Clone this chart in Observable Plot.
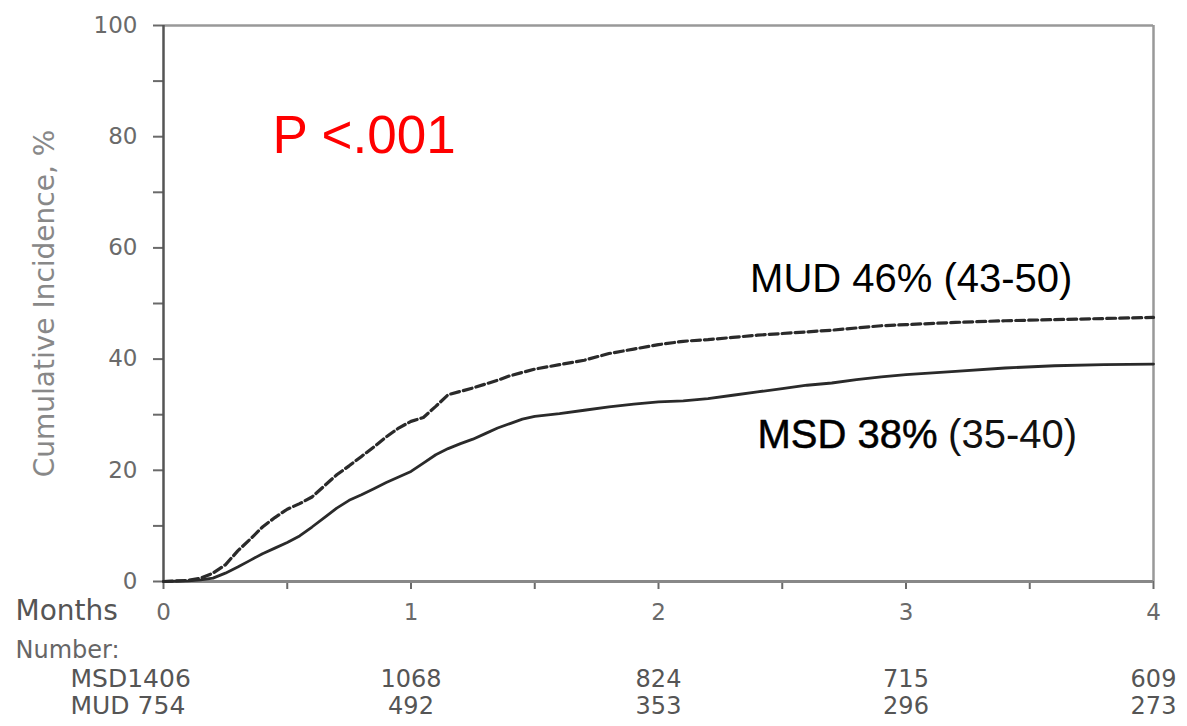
<!DOCTYPE html>
<html>
<head>
<meta charset="utf-8">
<script src="https://cdn.jsdelivr.net/npm/d3@7"></script>
<script src="https://cdn.jsdelivr.net/npm/@observablehq/plot@0.6"></script>
<style>
  html, body { margin: 0; padding: 0; background: #fff; }
  #chart svg { display: block; }
</style>
</head>
<body>
<div id="chart"></div>
<script>
// ---- data ----
const months = [0,0.1,0.15,0.2,0.25,0.3,0.35,0.4,0.45,0.5,0.55,0.6,0.65,0.7,0.75,0.8,0.85,0.9,0.95,1.0,
  1.05,1.1,1.15,1.2,1.25,1.3,1.35,1.4,1.45,1.5,1.6,1.7,1.8,1.9,2.0,2.1,2.2,2.3,2.4,2.5,
  2.6,2.7,2.8,2.9,3.0,3.2,3.4,3.6,3.8,4.0];
const msd = [0,0.1,0.3,0.6,1.5,2.6,3.8,5.0,6.0,7.0,8.2,9.8,11.5,13.2,14.6,15.6,16.7,17.8,18.8,19.8,
  21.3,22.8,23.9,24.8,25.6,26.6,27.6,28.4,29.2,29.7,30.2,30.8,31.4,31.9,32.3,32.5,32.9,33.5,34.1,34.7,
  35.3,35.7,36.3,36.8,37.2,37.8,38.4,38.8,39.0,39.1];
const mud = [0,0.2,0.6,1.5,3.0,5.5,7.6,9.8,11.5,13.0,14.0,15.2,17.2,19.2,20.8,22.5,24.2,26.0,27.6,28.8,
  29.5,31.5,33.6,34.2,34.8,35.5,36.2,37.0,37.6,38.2,39.0,39.8,41.0,41.8,42.6,43.2,43.5,43.9,44.3,44.6,
  44.9,45.2,45.6,46.0,46.2,46.6,46.9,47.1,47.3,47.5];

const riskMonths = [1, 2, 3, 4];
const riskMSD = [1068, 824, 715, 609];
const riskMUD = [492, 353, 296, 273];

const xTicks = [0,0.5,1,1.5,2,2.5,3,3.5,4];
const yTicks = [0,10,20,30,40,50,60,70,80,90,100];

const pText = "P <.001";
const mudLabel = "MUD 46% (43-50)";
const msdLabelA = "MSD 38%";
const msdLabelB = "(35-40)";
const yTitle = "Cumulative Incidence, %";

// ---- build ----
const msdData = months.map((m, i) => ({m, v: msd[i]}));
const mudData = months.map((m, i) => ({m, v: mud[i]}));
const riskMSDData = riskMonths.map((m, i) => ({m, n: riskMSD[i]}));
const riskMUDData = riskMonths.map((m, i) => ({m, n: riskMUD[i]}));

const chart = Plot.plot({
  width: 1187,
  height: 726,
  marginLeft: 163,
  marginRight: 34,
  marginTop: 25,
  marginBottom: 145,
  style: {fontFamily: "DejaVu Sans", background: "#fff"},
  x: {domain: [0, 4]},
  y: {domain: [0, 100]},
  marks: [
    // frame lines
    Plot.ruleY([100], {stroke: "#999", strokeWidth: 2.5}),
    Plot.ruleX([4], {stroke: "#999", strokeWidth: 2.5}),
    Plot.axisY({ticks: yTicks, tickFormat: d => d % 20 === 0 ? String(d) : "", tickSize: 10, tickPadding: 16,
      fontSize: 23, color: "#6a6a6a", strokeWidth: 2, label: null}),
    Plot.axisX({ticks: xTicks, tickFormat: d => Number.isInteger(d) ? String(d) : "", tickSize: 8, tickPadding: 14,
      fontSize: 23, color: "#6a6a6a", strokeWidth: 2, label: null}),
    Plot.ruleY([0], {stroke: "#888", strokeWidth: 3}),
    Plot.ruleX([0], {stroke: "#555", strokeWidth: 2.5}),
    // curves
    Plot.line(msdData, {x: "m", y: "v", stroke: "#2a2a2a", strokeWidth: 2.8}),
    Plot.line(mudData, {x: "m", y: "v", stroke: "#2a2a2a", strokeWidth: 3.2, strokeDasharray: "9,4"}),
    // annotations
    Plot.text([pText], {x: 0.44, y: 80.2, text: d => d, textAnchor: "start", fill: "#ff0000",
      fontSize: 53, fontFamily: "Liberation Sans"}),
    Plot.text([mudLabel], {x: 2.37, y: 54.3, text: d => d, textAnchor: "start", fill: "#000",
      fontSize: 40, fontFamily: "Liberation Sans"}),
    Plot.text([msdLabelA], {x: 2.40, y: 26.4, text: d => d, textAnchor: "start", fill: "#000",
      stroke: "#000", strokeWidth: 0.5, fontSize: 40, fontFamily: "Liberation Sans"}),
    Plot.text([msdLabelB], {x: 3.17, y: 26.4, text: d => d, textAnchor: "start", fill: "#111",
      fontSize: 40, fontFamily: "Liberation Sans"}),
    // y title
    Plot.text([yTitle], {frameAnchor: "left", dx: -118, rotate: -90, textAnchor: "middle", text: d => d,
      fill: "#888", fontSize: 28}),
    // risk table
    Plot.text(["Months"], {frameAnchor: "bottom-left", dx: -148, dy: 38, textAnchor: "start", text: d => d,
      fill: "#555", fontSize: 28}),
    Plot.text(["Number:"], {frameAnchor: "bottom-left", dx: -148, dy: 76, textAnchor: "start", text: d => d,
      fill: "#666", fontSize: 24}),
    Plot.text(["MSD1406"], {frameAnchor: "bottom-left", dx: -93, dy: 105, textAnchor: "start", text: d => d,
      fill: "#555", fontSize: 25}),
    Plot.text(["MUD 754"], {frameAnchor: "bottom-left", dx: -93, dy: 132, textAnchor: "start", text: d => d,
      fill: "#555", fontSize: 25}),
    Plot.text(riskMSDData, {x: "m", frameAnchor: "bottom", dy: 105, text: d => String(d.n), fill: "#555", fontSize: 24}),
    Plot.text(riskMUDData, {x: "m", frameAnchor: "bottom", dy: 132, text: d => String(d.n), fill: "#555", fontSize: 24})
  ]
});
document.getElementById("chart").appendChild(chart);
</script>
</body>
</html>
